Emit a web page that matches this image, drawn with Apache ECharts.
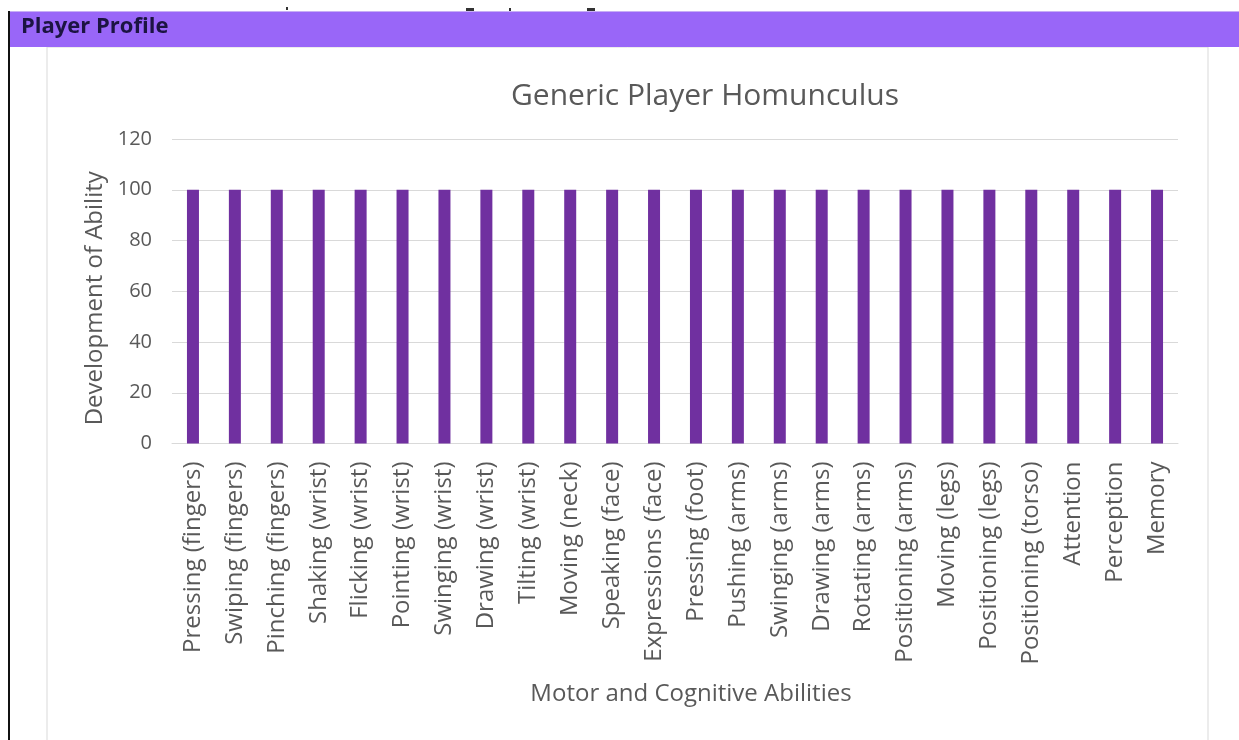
<!DOCTYPE html>
<html>
<head>
<meta charset="utf-8">
<style>
html,body{margin:0;padding:0;background:#fff;}
#chart{width:1239px;height:740px;}
</style>
<script src="https://cdn.jsdelivr.net/npm/echarts@6/dist/echarts.min.js"></script>
</head>
<body>
<div id="chart"></div>
<script>
const categories = [
  "Pressing (fingers)", "Swiping (fingers)", "Pinching (fingers)", "Shaking (wrist)",
  "Flicking (wrist)", "Pointing (wrist)", "Swinging (wrist)", "Drawing (wrist)",
  "Tilting (wrist)", "Moving (neck)", "Speaking (face)", "Expressions (face)",
  "Pressing (foot)", "Pushing (arms)", "Swinging (arms)", "Drawing (arms)",
  "Rotating (arms)", "Positioning (arms)", "Moving (legs)", "Positioning (legs)",
  "Positioning (torso)", "Attention", "Perception", "Memory"
];
const abilityValues = [100,100,100,100,100,100,100,100,100,100,100,100,100,100,100,100,100,100,100,100,100,100,100,100];
const yTicks = [0, 20, 40, 60, 80, 100, 120];

const FONT = "'Open Sans', 'Noto Sans', sans-serif";
const chart = echarts.init(document.getElementById('chart'));
chart.setOption({
  animation: false,
  backgroundColor: '#ffffff',
  graphic: [
    { type: 'rect', shape: { x: 47, y: 47, width: 1161, height: 700 }, style: { fill: '#fff', stroke: '#d9d9d9', lineWidth: 1 }, z: -10 },
    { type: 'rect', shape: { x: 10, y: 11, width: 1229, height: 36 }, style: { fill: '#9966f8' }, z: 1 },
    { type: 'rect', shape: { x: 10, y: 11, width: 1229, height: 1 }, style: { fill: '#c7aef5' }, z: 2 },
    { type: 'rect', shape: { x: 8, y: 11, width: 2, height: 729 }, style: { fill: '#111' }, z: 3 },
    { type: 'text', left: 21, top: 16, style: { text: 'Player Profile', font: 'bold 22px ' + FONT, fill: '#1c1442' }, z: 4 },
    { type: 'rect', shape: { x: 286, y: 7, width: 2, height: 3 }, style: { fill: '#333' } },
    { type: 'rect', shape: { x: 466, y: 8, width: 8, height: 3 }, style: { fill: '#333' } },
    { type: 'rect', shape: { x: 509, y: 8, width: 2, height: 3 }, style: { fill: '#333' } },
    { type: 'rect', shape: { x: 587, y: 8, width: 8, height: 3 }, style: { fill: '#333' } }
  ],
  title: {
    text: 'Generic Player Homunculus',
    left: 700, top: 76, textAlign: 'center',
    textStyle: { fontFamily: FONT, fontSize: 30, fontWeight: 'normal', color: '#595959' }
  },
  grid: { left: 172, right: 61, top: 139, bottom: 296.5, containLabel: false },
  xAxis: {
    type: 'category',
    data: categories,
    name: 'Motor and Cognitive Abilities',
    nameLocation: 'middle',
    nameGap: 239,
    nameTextStyle: { fontFamily: FONT, fontSize: 24, color: '#595959', padding: [0, 0, 0, 32] },
    axisLine: { lineStyle: { color: '#d9d9d9' } },
    axisTick: { show: false },
    axisLabel: { interval: 0, rotate: 90, margin: 18, fontFamily: FONT, fontSize: 24, color: '#595959' }
  },
  yAxis: {
    type: 'value',
    min: 0, max: 120, interval: 20,
    name: 'Development of Ability',
    nameLocation: 'middle',
    nameGap: 63,
    nameTextStyle: { fontFamily: FONT, fontSize: 24, color: '#595959', padding: [0, 14, 0, 0] },
    axisLine: { show: false },
    axisTick: { show: false },
    splitLine: { lineStyle: { color: '#d9d9d9' } },
    axisLabel: { margin: 20, fontFamily: FONT, fontSize: 20, color: '#595959',
      formatter: v => yTicks.includes(v) ? String(v) : '' }
  },
  series: [{
    type: 'bar',
    data: abilityValues,
    barWidth: 12,
    itemStyle: { color: '#7030a0' }
  }]
});
</script>
</body>
</html>
